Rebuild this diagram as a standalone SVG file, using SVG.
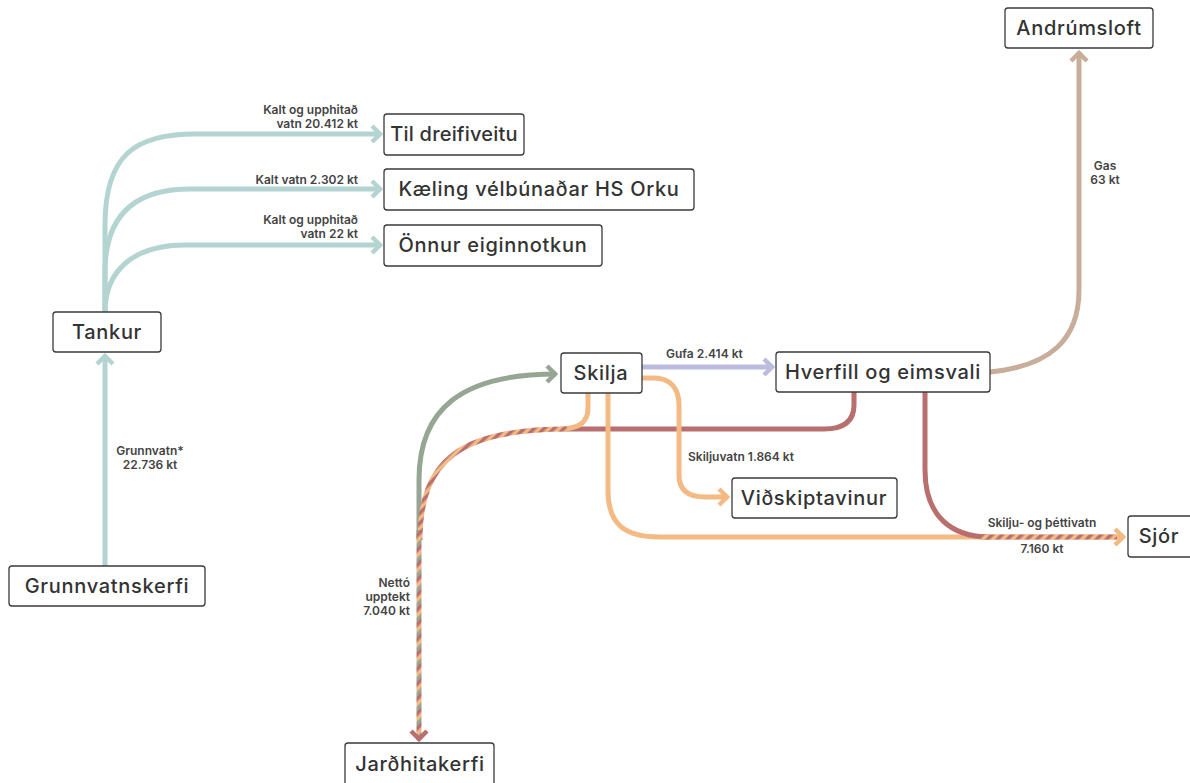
<svg xmlns="http://www.w3.org/2000/svg" width="1190" height="783" viewBox="0 0 1190 783">
<style>
.box{fill:#fff;stroke:#3a3a3a;stroke-width:1.3}
.nt{font-family:Inter,"Open Sans",sans-serif;font-size:20px;font-weight:500;fill:#333;text-anchor:middle;letter-spacing:0.7px}
.lb{font-family:Inter,"Open Sans",sans-serif;font-size:12px;font-weight:600;fill:#444}
.c{fill:none;stroke-width:5}
.teal{stroke:#b4d4d1}.grn{stroke:#97a594}.red{stroke:#b86f6e}.org{stroke:#f3ba83}.lav{stroke:#bcbcdf}.tan{stroke:#c8ae9a}
.s2{stroke:url(#pRO)}.s3{stroke:url(#pRGO)}
</style>
<defs>
<pattern id="pRO" patternUnits="userSpaceOnUse" width="7" height="7" patternTransform="rotate(45)"><rect width="7" height="7" fill="#f3ba83"/><rect width="3.5" height="7" fill="#b86f6e"/></pattern>
<pattern id="pRGO" patternUnits="userSpaceOnUse" width="10.5" height="10.5" patternTransform="rotate(45)"><rect width="10.5" height="10.5" fill="#97a594"/><rect width="3.5" height="10.5" fill="#b86f6e"/><rect x="3.5" width="3.5" height="10.5" fill="#f3ba83"/></pattern>
<marker id="aT" viewBox="-14 -11 16 22" markerWidth="16" markerHeight="22" refX="0" refY="0" orient="auto" markerUnits="userSpaceOnUse"><path d="M-9,-8 L-1,0 L-9,8" fill="none" stroke="#b4d4d1" stroke-width="4.5"/></marker>
<marker id="aG" viewBox="-14 -11 16 22" markerWidth="16" markerHeight="22" refX="0" refY="0" orient="auto" markerUnits="userSpaceOnUse"><path d="M-9,-8 L-1,0 L-9,8" fill="none" stroke="#97a594" stroke-width="4.5"/></marker>
<marker id="aR" viewBox="-14 -11 16 22" markerWidth="16" markerHeight="22" refX="0" refY="0" orient="auto" markerUnits="userSpaceOnUse"><path d="M-9,-8 L-1,0 L-9,8" fill="none" stroke="#b86f6e" stroke-width="4.5"/></marker>
<marker id="aO" viewBox="-14 -11 16 22" markerWidth="16" markerHeight="22" refX="0" refY="0" orient="auto" markerUnits="userSpaceOnUse"><path d="M-9,-8 L-1,0 L-9,8" fill="none" stroke="#f3ba83" stroke-width="4.5"/></marker>
<marker id="aL" viewBox="-14 -11 16 22" markerWidth="16" markerHeight="22" refX="0" refY="0" orient="auto" markerUnits="userSpaceOnUse"><path d="M-9,-8 L-1,0 L-9,8" fill="none" stroke="#bcbcdf" stroke-width="4.5"/></marker>
<marker id="aN" viewBox="-14 -11 16 22" markerWidth="16" markerHeight="22" refX="0" refY="0" orient="auto" markerUnits="userSpaceOnUse"><path d="M-9,-8 L-1,0 L-9,8" fill="none" stroke="#c8ae9a" stroke-width="4.5"/></marker>
</defs>

<g id="connectors">
  <path class="c teal" d="M105,566 V355" marker-end="url(#aT)"/>
  <path class="c teal" d="M105,312 V225 C105,155 135,134 195,134 H381" marker-end="url(#aT)"/>
  <path class="c teal" d="M105,312 V272 C105,215 135,189 190,189 H381" marker-end="url(#aT)"/>
  <path class="c teal" d="M105,312 C105,272 132,245 185,245 H381" marker-end="url(#aT)"/>
  <path class="c lav" d="M642,367 H773" marker-end="url(#aL)"/>
  <path class="c tan" d="M990,372 C1050,366 1079,340 1079,290 V52" marker-end="url(#aN)"/>
  <path class="c grn" d="M419,540 V480 C419,410 460,374 556,374" marker-end="url(#aG)"/>
  <path class="c red" d="M854,392 V405 C854,421 844,429 824,429 H565"/>
  <path class="c org" d="M588,393 V408 C588,423 578,429 560,429"/>
  <path class="c s2" d="M567,429 C460,429 420,460 420,540"/>
  <path class="c s3" d="M419,530 V738"/>
  <path class="c red" d="M419,736 V740" marker-end="url(#aR)"/>
  <path class="c org" d="M642,378 H654 C670,378 679,388 679,405 V475 C679,490 688,497 705,497 H728" marker-end="url(#aO)"/>
  <path class="c org" d="M608,393 V490 C608,525 625,537 660,537 H1124" marker-end="url(#aO)"/>
  <path class="c red" d="M925,392 V470 C925,515 950,537 990,537"/>
  <path class="c s2" d="M980,537 H1117"/>
</g>

<g id="labels">
  <text class="lb" x="358" y="114" text-anchor="end">Kalt og upphitað</text>
  <text class="lb" x="358" y="128" text-anchor="end">vatn 20.412 kt</text>
  <text class="lb" x="358" y="184" text-anchor="end">Kalt vatn 2.302 kt</text>
  <text class="lb" x="358" y="224" text-anchor="end">Kalt og upphitað</text>
  <text class="lb" x="358" y="238" text-anchor="end">vatn 22 kt</text>
  <text class="lb" x="150" y="455" text-anchor="middle">Grunnvatn*</text>
  <text class="lb" x="150" y="469" text-anchor="middle">22.736 kt</text>
  <text class="lb" x="666" y="358">Gufa 2.414 kt</text>
  <text class="lb" x="1105" y="170" text-anchor="middle">Gas</text>
  <text class="lb" x="1105" y="184" text-anchor="middle">63 kt</text>
  <text class="lb" x="688" y="461">Skiljuvatn 1.864 kt</text>
  <text class="lb" x="1042" y="527" text-anchor="middle">Skilju- og þéttivatn</text>
  <text class="lb" x="1042" y="553" text-anchor="middle">7.160 kt</text>
  <text class="lb" x="410" y="587" text-anchor="end">Nettó</text>
  <text class="lb" x="410" y="601" text-anchor="end">upptekt</text>
  <text class="lb" x="410" y="615" text-anchor="end">7.040 kt</text>
</g>

<g id="n-til-dreifiveitu"><rect class="box" x="384" y="114" width="140" height="41" rx="3"/><text class="nt" x="454" y="141" style="letter-spacing:0.2px">Til dreifiveitu</text></g>
<g id="n-kaeling"><rect class="box" x="384" y="169" width="310" height="41" rx="3"/><text class="nt" x="539" y="196">Kæling vélbúnaðar HS Orku</text></g>
<g id="n-onnur"><rect class="box" x="384" y="225" width="218" height="41" rx="3"/><text class="nt" x="493" y="252">Önnur eiginnotkun</text></g>
<g id="n-tankur"><rect class="box" x="53" y="312" width="108" height="40" rx="3"/><text class="nt" x="107" y="339">Tankur</text></g>
<g id="n-grunnvatnskerfi"><rect class="box" x="9" y="566" width="196" height="40" rx="3"/><text class="nt" x="107" y="593">Grunnvatnskerfi</text></g>
<g id="n-skilja"><rect class="box" x="561" y="353" width="81" height="40" rx="3"/><text class="nt" x="601" y="380">Skilja</text></g>
<g id="n-hverfill"><rect class="box" x="776" y="352" width="214" height="40" rx="3"/><text class="nt" x="883" y="379">Hverfill og eimsvali</text></g>
<g id="n-andrumsloft"><rect class="box" x="1005" y="8" width="148" height="40" rx="3"/><text class="nt" x="1079" y="35">Andrúmsloft</text></g>
<g id="n-vidskiptavinur"><rect class="box" x="732" y="478" width="165" height="40" rx="3"/><text class="nt" x="814" y="505">Viðskiptavinur</text></g>
<g id="n-sjor"><rect class="box" x="1128" y="516" width="66" height="41" rx="3"/><text class="nt" x="1159" y="543">Sjór</text></g>
<g id="n-jardhitakerfi"><rect class="box" x="345" y="743" width="149" height="44" rx="3"/><text class="nt" x="420" y="771">Jarðhitakerfi</text></g>
</svg>
